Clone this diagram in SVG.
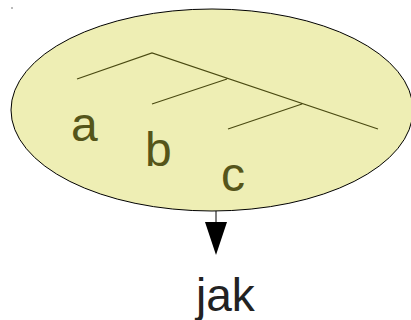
<svg xmlns="http://www.w3.org/2000/svg" width="411" height="320" viewBox="0 0 411 320">
<style>
.lbl{font-family:"Liberation Sans",Arial,sans-serif;font-size:48px;fill:#55551a}
.tree{stroke:#4a4a12;stroke-width:1.2;fill:none}
</style>
<rect width="411" height="320" fill="#ffffff"/>
<rect x="11" y="7" width="2" height="2" fill="#bbbbbb"/>
<g id="node-tree">
<ellipse cx="212" cy="110" rx="201" ry="101" fill="#eeeeb4" stroke="#000000" stroke-width="1"/>
<path class="tree" d="M77,79 L152,53 L378,129 M152,104 L227,79 M228,129 L302,104"/>
<text class="lbl" x="71" y="141">a</text>
<text class="lbl" x="145" y="166">b</text>
<text class="lbl" x="221" y="191">c</text>
</g>
<g id="connectors">
<line x1="216" y1="211" x2="216" y2="223" stroke="#000000" stroke-width="1"/>
<polygon points="205,222 227,222 216,255" fill="#000000"/>
</g>
<g id="node-jak">
<text x="196" y="311" font-family="Liberation Sans,Arial,sans-serif" font-size="46" fill="#222222">jak</text>
</g>
</svg>
